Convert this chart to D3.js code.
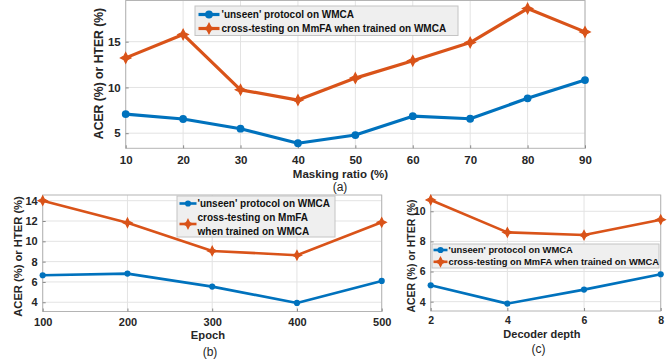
<!DOCTYPE html>
<html>
<head>
<meta charset="utf-8">
<script src="https://cdn.jsdelivr.net/npm/d3@7"></script>
<style>
  html, body { margin: 0; padding: 0; background: #fff; }
  svg { display: block; font-family: "Liberation Sans", Arial, Helvetica, sans-serif; }
</style>
</head>
<body>
<svg id="chart" width="670" height="361"></svg>
<script>
// ---- data ----
const maskRatio = [10, 20, 30, 40, 50, 60, 70, 80, 90];
const maskUnseen = [7.09, 6.55, 5.49, 3.90, 4.80, 6.86, 6.58, 8.81, 10.81];
const maskCross = [13.23, 15.79, 9.74, 8.62, 11.02, 12.91, 14.91, 18.62, 16.07];
const maskYTicks = [5, 10, 15];

const epochs = [100, 200, 300, 400, 500];
const epochUnseen = [6.66, 6.82, 5.54, 3.93, 6.10];
const epochCross = [14.0, 11.83, 9.05, 8.63, 11.87];
const epochYTicks = [4, 6, 8, 10, 12, 14];

const depths = [2, 4, 6, 8];
const depthUnseen = [5.09, 3.87, 4.80, 5.82];
const depthCross = [10.75, 8.60, 8.42, 9.44];
const depthYTicks = [4, 6, 8, 10];

const seriesNames = ["'unseen' protocol on WMCA", "cross-testing on MmFA when trained on WMCA"];
const yTitle = "ACER (%) or HTER (%)";

// ---- styles ----
const BLUE = "#0072BD";
const ORANGE = "#D95319";
const TEXT = "#262626";

const svg = d3.select("#chart");

// four-pointed star marker
function starPath(r) {
  const w = r * 0.34;
  return `M0,${-r}L${w},${-w}L${r},0L${w},${w}L0,${r}L${-w},${w}L${-r},0L${-w},${-w}Z`;
}

function drawPanel(p) {
  const g = svg.append("g");
  const x = d3.scaleLinear().domain(p.xDomain).range([p.left, p.right]);
  const y = d3.scaleLinear().domain(p.yDomain).range([p.bottom, p.top]);

  // grid
  g.selectAll(".vg").data(p.xs).enter().append("line")
    .attr("x1", d => x(d)).attr("x2", d => x(d))
    .attr("y1", p.top).attr("y2", p.bottom)
    .attr("stroke", "#e3e3e3").attr("stroke-width", 1);
  g.selectAll(".hg").data(p.yTicks).enter().append("line")
    .attr("x1", p.left).attr("x2", p.right)
    .attr("y1", d => y(d)).attr("y2", d => y(d))
    .attr("stroke", "#e3e3e3").attr("stroke-width", 1);

  // box
  g.append("rect")
    .attr("x", p.left).attr("y", p.top)
    .attr("width", p.right - p.left).attr("height", p.bottom - p.top)
    .attr("fill", "none").attr("stroke", "#b4b4b4").attr("stroke-width", 1);

  // axes via d3 axis generators (ticks inward, no domain line)
  const xAxis = d3.axisBottom(x).tickValues(p.xs).tickSize(-3).tickPadding(p.xPad).tickFormat(d3.format("d"));
  const yAxis = d3.axisLeft(y).tickValues(p.yTicks).tickSize(-3).tickPadding(5).tickFormat(d3.format("d"));
  const gx = g.append("g").attr("transform", `translate(0,${p.bottom})`).call(xAxis);
  const gy = g.append("g").attr("transform", `translate(${p.left},0)`).call(yAxis);
  [gx, gy].forEach(a => {
    a.select(".domain").remove();
    a.selectAll(".tick line").attr("stroke", "#8a8a8a");
    a.selectAll(".tick text")
      .attr("fill", TEXT).attr("font-size", p.tickFont).attr("font-weight", "bold")
      .style("font-family", "'Liberation Sans', Arial, sans-serif");
  });

  // axis titles
  g.append("text")
    .attr("x", x(p.xTitleAt)).attr("y", p.xTitleY)
    .attr("text-anchor", "middle").attr("dy", "0.35em")
    .attr("font-size", p.titleFont).attr("font-weight", "bold").attr("fill", TEXT)
    .text(p.xTitle);
  g.append("text")
    .attr("transform", `translate(${p.yTitleX},${p.yTitleY}) rotate(-90)`)
    .attr("text-anchor", "middle").attr("dy", "0.35em")
    .attr("font-size", p.yTitleFont).attr("font-weight", "bold").attr("fill", TEXT)
    .text(yTitle);

  // caption
  g.append("text")
    .attr("x", p.capX).attr("y", p.capY)
    .attr("text-anchor", "middle").attr("dy", "0.35em")
    .attr("font-size", 12).attr("fill", TEXT)
    .text(p.caption);

  // series
  const line = d3.line().x(d => x(d[0])).y(d => y(d[1]));
  const unseen = p.xs.map((v, i) => [v, p.unseen[i]]);
  const cross = p.xs.map((v, i) => [v, p.cross[i]]);

  g.append("path").datum(cross).attr("d", line)
    .attr("fill", "none").attr("stroke", ORANGE).attr("stroke-width", p.lw)
    .attr("stroke-linejoin", "round");
  g.selectAll(".cm").data(cross).enter().append("path")
    .attr("transform", d => `translate(${x(d[0])},${y(d[1])})`)
    .attr("d", starPath(p.starR)).attr("fill", ORANGE).attr("stroke", ORANGE).attr("stroke-width", 1.2);

  g.append("path").datum(unseen).attr("d", line)
    .attr("fill", "none").attr("stroke", BLUE).attr("stroke-width", p.lw)
    .attr("stroke-linejoin", "round");
  g.selectAll(".um").data(unseen).enter().append("circle")
    .attr("cx", d => x(d[0])).attr("cy", d => y(d[1]))
    .attr("r", p.dotR).attr("fill", BLUE);

  // legend
  const L = p.legend;
  const lg = g.append("g");
  lg.append("rect").attr("x", L.x).attr("y", L.y).attr("width", L.w).attr("height", L.h)
    .attr("fill", "#efefef").attr("stroke", "#c4c4c4").attr("stroke-width", 1);
  const entries = [
    { color: BLUE, lines: L.lines[0], sy: L.sampleY[0], dot: true },
    { color: ORANGE, lines: L.lines[1], sy: L.sampleY[1], dot: false }
  ];
  let row = 0;
  entries.forEach(e => {
    lg.append("line").attr("x1", L.sx0).attr("x2", L.sx1).attr("y1", e.sy).attr("y2", e.sy)
      .attr("stroke", e.color).attr("stroke-width", p.lw);
    const mx = (L.sx0 + L.sx1) / 2;
    if (e.dot) {
      lg.append("circle").attr("cx", mx).attr("cy", e.sy).attr("r", p.dotR).attr("fill", e.color);
    } else {
      lg.append("path").attr("transform", `translate(${mx},${e.sy})`).attr("d", starPath(p.starR))
        .attr("fill", e.color).attr("stroke", e.color).attr("stroke-width", 1.2);
    }
    e.lines.forEach(t => {
      lg.append("text").attr("x", L.tx).attr("y", L.rowY[row]).attr("dy", "0.35em")
        .attr("font-size", L.font).attr("font-weight", "bold").attr("fill", "#111")
        .text(t);
      row++;
    });
  });
}

// (a) masking ratio
drawPanel({
  xs: maskRatio, unseen: maskUnseen, cross: maskCross, yTicks: maskYTicks,
  xDomain: [10, 90], yDomain: [3.35, 19.5],
  left: 125.7, right: 585, top: 0.5, bottom: 148.3,
  xTitle: "Masking ratio (%)", xTitleAt: 47.4, xTitleY: 173.5, xPad: 7.5,
  yTitleX: 98.5, yTitleY: 73.5, yTitleFont: 12.2,
  caption: "(a)", capX: 340, capY: 187,
  tickFont: 11.5, titleFont: 11.5, lw: 3.2, dotR: 3.9, starR: 5.2,
  legend: {
    x: 195, y: 6, w: 263, h: 29.5, sx0: 198.5, sx1: 219.5, tx: 221.5, font: 10,
    lines: [[seriesNames[0]], [seriesNames[1]]], sampleY: [14.5, 28.5], rowY: [14.5, 28.5]
  }
});

// (b) epoch
drawPanel({
  xs: epochs, unseen: epochUnseen, cross: epochCross, yTicks: epochYTicks,
  xDomain: [100, 500], yDomain: [3.09, 14.56],
  left: 42.7, right: 381.7, top: 195, bottom: 311.5,
  xTitle: "Epoch", xTitleAt: 295, xTitleY: 335.5, xPad: 7,
  yTitleX: 18.5, yTitleY: 256.5, yTitleFont: 11.2,
  caption: "(b)", capX: 210, capY: 351.5,
  tickFont: 11, titleFont: 11.2, lw: 2.6, dotR: 3.1, starR: 4.6,
  legend: {
    x: 177, y: 196, w: 158, h: 41, sx0: 179.5, sx1: 196.5, tx: 197.5, font: 10,
    lines: [[seriesNames[0]], ["cross-testing on MmFA", "when trained on WMCA"]],
    sampleY: [203.5, 224], rowY: [203.5, 217.5, 231]
  }
});

// (c) decoder depth
drawPanel({
  xs: depths, unseen: depthUnseen, cross: depthCross, yTicks: depthYTicks,
  xDomain: [2, 8], yDomain: [3.38, 11.08],
  left: 430.7, right: 660.7, top: 195, bottom: 311,
  xTitle: "Decoder depth", xTitleAt: 4.9, xTitleY: 334, xPad: 6,
  yTitleX: 411.5, yTitleY: 256, yTitleFont: 10.5,
  caption: "(c)", capX: 538.5, capY: 348.5,
  tickFont: 10.5, titleFont: 11, lw: 2.6, dotR: 3.1, starR: 4.6,
  legend: {
    x: 432, y: 244, w: 227, h: 24, sx0: 433.5, sx1: 447.5, tx: 448.5, font: 9.4,
    lines: [[seriesNames[0]], [seriesNames[1]]], sampleY: [250, 261.8], rowY: [250, 261.8]
  }
});
</script>
</body>
</html>
